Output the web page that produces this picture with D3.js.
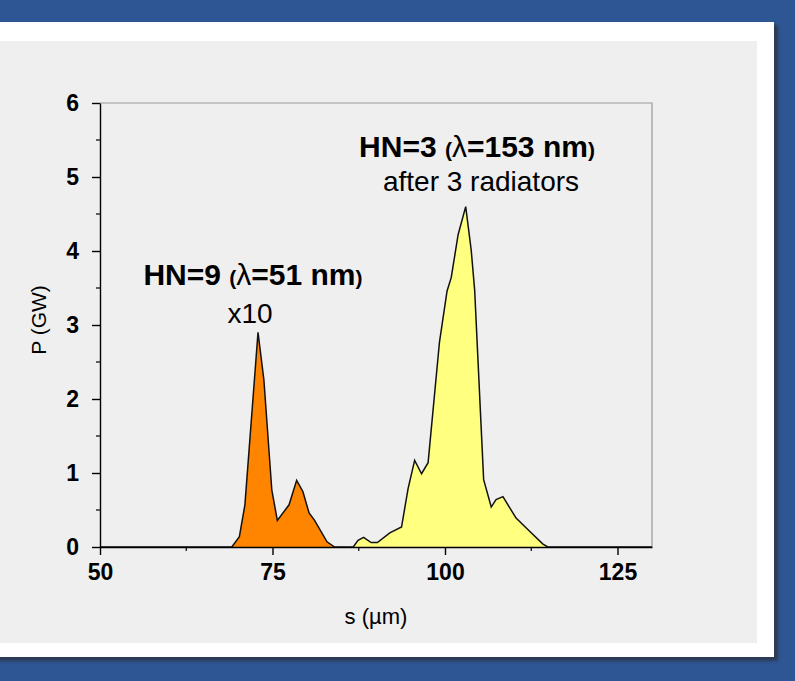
<!DOCTYPE html>
<html>
<head>
<meta charset="utf-8">
<script src="https://cdn.jsdelivr.net/npm/d3@7"></script>
<style>
  body { margin: 0; background: #2e5694; }
  svg { display: block; }
  text { font-family: "Liberation Sans", Arial, sans-serif; fill: #000; }
</style>
</head>
<body>
<div id="visual"></div>
<script>
// HN=9 harmonic (x10), s in um, P in GW
const hn9S = [50, 69.1, 70.2, 71.0, 72.9, 73.75, 74.9, 75.7, 77.4, 78.5, 79.4, 80.3, 81.1, 82.9, 84.0, 86.0];
const hn9P = [0, 0, 0.14, 0.57, 2.90, 2.26, 0.77, 0.36, 0.57, 0.90, 0.75, 0.46, 0.36, 0.07, 0, 0];
// HN=3 harmonic after 3 radiators
const hn3S = [86.0, 86.7, 87.4, 88.2, 89.3, 90.2, 92.0, 93.7, 94.65, 95.6, 96.6, 97.55, 99.2, 100.3, 100.9, 101.9, 103.0, 103.8, 104.3, 105.6, 106.7, 107.4, 108.4, 110.3, 112.3, 114.2, 114.9, 130];
const hn3P = [0, 0, 0.09, 0.13, 0.06, 0.06, 0.19, 0.27, 0.79, 1.17, 0.99, 1.14, 2.77, 3.46, 3.64, 4.22, 4.60, 4.01, 3.47, 0.91, 0.54, 0.64, 0.68, 0.39, 0.21, 0.04, 0, 0];

const xTicks = [50, 75, 100, 125];
const xMinor = [62.5, 87.5, 112.5];
const yTicks = [0, 1, 2, 3, 4, 5, 6];
const yMinor = [0.5, 1.5, 2.5, 3.5, 4.5, 5.5];

const w = 795, h = 681;
const pLeft = 100, pRight = 652, pTop = 103, pBottom = 547;

const svg = d3.select("#visual").append("svg")
  .attr("width", w).attr("height", h);

const defs = svg.append("defs");
defs.append("filter").attr("id", "blur").append("feGaussianBlur").attr("stdDeviation", 1.5);

// panel with shadow
svg.append("rect").attr("x", -10).attr("y", 25).attr("width", 788).attr("height", 636)
  .attr("fill", "#2a2f3a").attr("opacity", 0.7).attr("filter", "url(#blur)");
svg.append("rect").attr("x", -10).attr("y", 22).attr("width", 784).attr("height", 635).attr("fill", "#ffffff");
svg.append("rect").attr("x", -10).attr("y", 41).attr("width", 767).attr("height", 602).attr("fill", "#efefef");

const xScale = d3.scaleLinear().domain([50, 130]).range([pLeft, pRight]);
const yScale = d3.scaleLinear().domain([0, 6]).range([pBottom, pTop]);

// top and right frame
svg.append("path")
  .attr("d", "M" + pLeft + "," + pTop + "H" + pRight + "V" + pBottom)
  .attr("fill", "none").attr("stroke", "#9a9a9a").attr("stroke-width", 1.2);

function areaFor(sArr, pArr) {
  const pts = sArr.map((s, i) => [s, pArr[i]]);
  return d3.area().x(d => xScale(d[0])).y0(yScale(0)).y1(d => yScale(d[1]))(pts);
}
function lineFor(sArr, pArr) {
  const pts = sArr.map((s, i) => [s, pArr[i]]);
  return d3.line().x(d => xScale(d[0])).y(d => yScale(d[1]))(pts);
}

svg.append("path").attr("d", areaFor(hn9S, hn9P)).attr("fill", "#ff8400");
svg.append("path").attr("d", areaFor(hn3S, hn3P)).attr("fill", "#ffff80");
svg.append("path").attr("d", lineFor(hn9S, hn9P)).attr("fill", "none").attr("stroke", "#111").attr("stroke-width", 1.5);
svg.append("path").attr("d", lineFor(hn3S, hn3P)).attr("fill", "none").attr("stroke", "#111").attr("stroke-width", 1.5);

// axes
const xAxis = svg.append("g").attr("transform", "translate(0," + pBottom + ")")
  .call(d3.axisBottom(xScale).tickValues(xTicks).tickFormat(d3.format("d"))
    .tickSize(8).tickSizeOuter(0).tickPadding(9));
xAxis.selectAll(".tick line").attr("stroke-width", 1.4);
xAxis.select(".domain").attr("stroke-width", 1.4);
xAxis.selectAll("text").attr("font-size", 23).attr("font-weight", "bold")
  .attr("font-family", "Liberation Sans, Arial, sans-serif");
xAxis.selectAll(".minor").data(xMinor).enter().append("line")
  .attr("x1", d => xScale(d)).attr("x2", d => xScale(d))
  .attr("y1", 0).attr("y2", 4).attr("stroke", "#000").attr("stroke-width", 1.2);

const yAxis = svg.append("g").attr("transform", "translate(" + pLeft + ",0)")
  .call(d3.axisLeft(yScale).tickValues(yTicks).tickFormat(d3.format("d"))
    .tickSize(8).tickSizeOuter(0).tickPadding(13));
yAxis.selectAll(".tick line").attr("stroke-width", 1.4);
yAxis.select(".domain").attr("stroke-width", 1.4);
yAxis.selectAll("text").attr("font-size", 23).attr("font-weight", "bold")
  .attr("font-family", "Liberation Sans, Arial, sans-serif");
yAxis.selectAll(".minor").data(yMinor).enter().append("line")
  .attr("x1", -4).attr("x2", 0)
  .attr("y1", d => yScale(d)).attr("y2", d => yScale(d)).attr("stroke", "#000").attr("stroke-width", 1.2);

// axis titles
svg.append("text").attr("x", 376).attr("y", 624).attr("text-anchor", "middle")
  .attr("font-size", 22).text("s (µm)");
svg.append("text").attr("transform", "translate(46,320) rotate(-90)").attr("text-anchor", "middle")
  .attr("font-size", 21).text("P (GW)");

// annotations
function label(x, y, main, inner) {
  const t = svg.append("text").attr("x", x).attr("y", y).attr("text-anchor", "middle")
    .attr("font-weight", "bold").attr("font-size", 30);
  t.append("tspan").text(main + " ");
  t.append("tspan").attr("font-size", 21).text("(");
  t.append("tspan").attr("font-weight", "normal").text("λ");
  t.append("tspan").text(inner);
  t.append("tspan").attr("font-size", 21).text(")");
}
label(477, 157, "HN=3", "=153 nm");
svg.append("text").attr("x", 481).attr("y", 191).attr("text-anchor", "middle")
  .attr("font-size", 28).text("after 3 radiators");
label(253, 285, "HN=9", "=51 nm");
svg.append("text").attr("x", 250).attr("y", 323).attr("text-anchor", "middle")
  .attr("font-size", 28).text("x10");
</script>
</body>
</html>
